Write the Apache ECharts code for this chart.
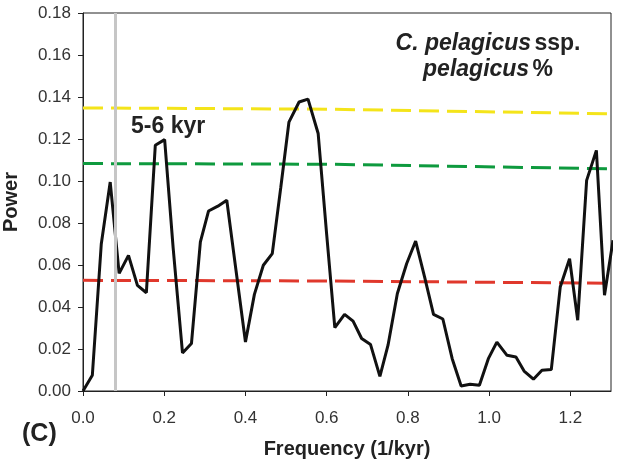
<!DOCTYPE html>
<html>
<head>
<meta charset="utf-8">
<script src="https://cdn.jsdelivr.net/npm/echarts@6/dist/echarts.min.js"></script>
<style>
  html, body { margin: 0; padding: 0; background: #fff; }
  #chart { width: 622px; height: 468px; }
</style>
</head>
<body>
<div id="chart"></div>
<script>
  // frequency (1/kyr) and power
  var freq = [0.000, 0.023, 0.045, 0.067, 0.089, 0.112, 0.134, 0.156, 0.178, 0.201,
              0.222, 0.245, 0.267, 0.289, 0.309, 0.332, 0.354, 0.377, 0.400, 0.422,
              0.444, 0.466, 0.487, 0.507, 0.532, 0.554, 0.579, 0.600, 0.620, 0.644,
              0.665, 0.686, 0.708, 0.731, 0.751, 0.774, 0.797, 0.819, 0.841, 0.863,
              0.886, 0.909, 0.931, 0.953, 0.976, 0.998, 1.019, 1.044, 1.066, 1.086,
              1.109, 1.130, 1.153, 1.175, 1.198, 1.218, 1.240, 1.264, 1.284, 1.305]
  var power = [0.0000, 0.0075, 0.0700, 0.0995, 0.0560, 0.0646, 0.0503, 0.0468, 0.1170, 0.1197,
               0.0680, 0.0181, 0.0226, 0.0710, 0.0857, 0.0880, 0.0908, 0.0570, 0.0233, 0.0460,
               0.0599, 0.0654, 0.0970, 0.1280, 0.1376, 0.1390, 0.1226, 0.0745, 0.0302, 0.0365,
               0.0333, 0.0250, 0.0221, 0.0070, 0.0218, 0.0464, 0.0607, 0.0714, 0.0543, 0.0365,
               0.0343, 0.0154, 0.0024, 0.0032, 0.0027, 0.0154, 0.0233, 0.0170, 0.0162, 0.0095,
               0.0056, 0.0099, 0.0102, 0.0495, 0.0630, 0.0337, 0.1003, 0.1146, 0.0456, 0.0718]

  // significance levels
  var levelFreq = [0, 0.6, 1.3]
  var level99 = [0.1348, 0.1342, 0.1320]
  var level95 = [0.1083, 0.1080, 0.1058]
  var level50 = [0.0527, 0.0524, 0.0513]

  var xTicks = [0, 0.2, 0.4, 0.6, 0.8, 1.0, 1.2]
  var markFreq = 0.08

  function pairs (xs, ys) {
    var out = []
    for (var i = 0; i < xs.length; i++) {
      out.push([xs[i], ys[i]])
    }
    return out
  }

  function levelSeries (color, ys) {
    return {
      type: 'line',
      data: pairs(levelFreq, ys),
      symbol: 'none',
      silent: true,
      lineStyle: {
        color: color,
        width: 3,
        type: [20, 8],
      },
      z: 2,
    }
  }

  var myChart = echarts.init(document.getElementById('chart'))
  var font = '"Liberation Sans", Arial, sans-serif'
  var option = {
    animation: false,
    textStyle: { fontFamily: font },
    grid: {
      left: 83,
      right: 11,
      top: 13,
      bottom: 77,
      outerBoundsMode: 'none',
      containLabel: false,
      show: true,
      borderColor: '#222',
      borderWidth: 1,
    },
    xAxis: {
      type: 'value',
      min: 0,
      max: 1.3,
      interval: 0.2,
      name: 'Frequency (1/kyr)',
      nameLocation: 'middle',
      nameGap: 48,
      nameTextStyle: { fontSize: 20, fontWeight: 'bold', color: '#222' },
      axisLine: { lineStyle: { color: '#222' } },
      axisTick: { show: true, length: 5, inside: false, lineStyle: { color: '#222' } },
      splitLine: { show: false },
      axisLabel: {
        fontSize: 17,
        color: '#333',
        margin: 19,
        showMaxLabel: false,
        formatter: function (v) {
          return xTicks.indexOf(Math.round(v * 10) / 10) >= 0 && v < 1.25 ? v.toFixed(1) : ''
        },
      },
    },
    yAxis: {
      type: 'value',
      min: 0,
      max: 0.18,
      interval: 0.02,
      name: 'Power',
      nameLocation: 'middle',
      nameGap: 62,
      nameTextStyle: { fontSize: 20, fontWeight: 'bold', color: '#222' },
      axisLine: { show: true, lineStyle: { color: '#222' } },
      axisTick: { show: true, length: 5, lineStyle: { color: '#222' } },
      splitLine: { show: false },
      axisLabel: {
        fontSize: 17,
        color: '#333',
        margin: 12,
        formatter: function (v) { return v.toFixed(2) },
      },
    },
    graphic: [
      {
        type: 'text',
        x: 131,
        y: 127,
        style: { text: '5-6 kyr', font: 'bold 23px ' + font, fill: '#222', verticalAlign: 'middle' },
      },
      {
        type: 'text',
        x: 488,
        y: 31,
        style: {
          text: '{i|C. pelagicus} {n|ssp.}\n{i|pelagicus} {n|%}',
          align: 'center',
          verticalAlign: 'top',
          lineHeight: 26,
          rich: {
            i: { font: 'italic bold 23px ' + font, fill: '#222', lineHeight: 26 },
            n: { font: 'bold 23px ' + font, fill: '#222', lineHeight: 26 },
          },
        },
      },
      {
        type: 'text',
        x: 22,
        y: 434,
        style: { text: '(C)', font: 'bold 25px ' + font, fill: '#222', verticalAlign: 'middle' },
      },
    ],
    series: [
      {
        type: 'line',
        data: [],
        silent: true,
        markLine: {
          symbol: 'none',
          silent: true,
          label: { show: false },
          lineStyle: { color: '#c6c6c6', width: 3, type: 'solid' },
          data: [{ xAxis: markFreq }],
        },
        z: 1,
      },
      levelSeries('#f4e41a', level99),
      levelSeries('#0e9a3e', level95),
      levelSeries('#e0382c', level50),
      {
        type: 'line',
        data: pairs(freq, power),
        symbol: 'none',
        silent: true,
        lineStyle: { color: '#111', width: 3 },
        z: 3,
      },
    ],
  }
  myChart.setOption(option)
</script>
</body>
</html>
